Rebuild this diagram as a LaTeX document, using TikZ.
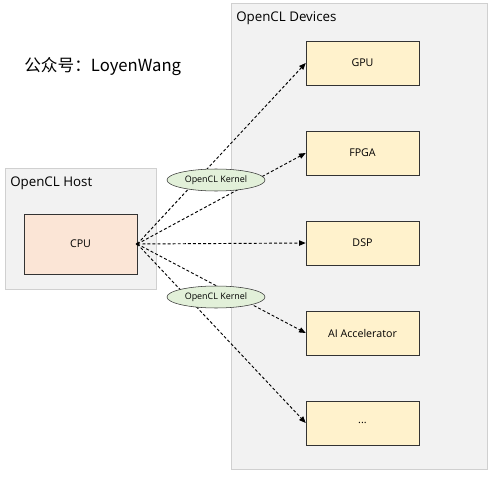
\documentclass[tikz,border=0pt]{standalone}
\usepackage{fontspec}
\setmainfont{Open Sans}
\newfontfamily\cjk{Noto Sans CJK SC}
\usetikzlibrary{positioning,shapes.geometric,arrows.meta}
\definecolor{groupfill}{HTML}{F2F2F2}
\definecolor{groupline}{HTML}{D0D0D0}
\definecolor{hostfill}{HTML}{FBE5D6}
\definecolor{devfill}{HTML}{FFF2CC}
\definecolor{kernfill}{HTML}{E2F0D9}
\begin{document}
\begin{tikzpicture}[
  x=0.75pt, y=-0.75pt,
  group/.style={rectangle, draw=groupline, fill=groupfill, anchor=north west, inner sep=0pt},
  title/.style={anchor=west, inner sep=0pt, font=\fontsize{10}{12}\selectfont},
  device/.style={rectangle, draw=black!80, fill=devfill, minimum width=84.75pt, minimum height=33pt, font=\fontsize{8}{9}\selectfont},
  kernel/.style={ellipse, draw=black!80, fill=kernfill, minimum width=73.5pt, minimum height=16.5pt, inner sep=0pt, font=\fontsize{6.7}{8}\selectfont},
  link/.style={-{Triangle[length=5pt,width=4pt]}, line width=0.7pt, dash pattern=on 2.2pt off 1.6pt},
  node distance=67.5pt
]
\useasboundingbox (0,0) rectangle (493,478);
\node[group, minimum width=192pt, minimum height=349.5pt] (devices) at (231,3) {};
\node[group, minimum width=113.25pt, minimum height=90.75pt] (host) at (5,168) {};
\node[title] (devtitle) at (236,18) {OpenCL Devices};
\node[title] (hosttitle) at (10,183) {OpenCL Host};
\node[anchor=west, inner sep=0pt, font=\cjk\fontsize{12.5}{15}\selectfont] (wechat) at (24,67) {公众号：LoyenWang};

\node[device, fill=hostfill, minimum height=45pt] (cpu) at (80.5,244) {CPU};
\node[device] (gpu) at (362.5,63) {GPU};
\node[device, below of=gpu] (fpga) {FPGA};
\node[device, below of=fpga] (dsp) {DSP};
\node[device, below of=dsp] (ai) {AI Accelerator};
\node[device, below of=ai] (more) {...};

\fill[black] (cpu.east) circle (1.2pt);
\draw[link] (cpu.east) -- (gpu.west);
\draw[link] (cpu.east) -- (fpga.west);
\draw[link] (cpu.east) -- (dsp.west);
\draw[link] (cpu.east) -- (ai.west);
\draw[link] (cpu.east) -- (more.west);

\node[kernel] (kerneltop) at (216,180) {OpenCL Kernel};
\node[kernel] (kernelbot) at (216,297) {OpenCL Kernel};
\end{tikzpicture}
\end{document}
